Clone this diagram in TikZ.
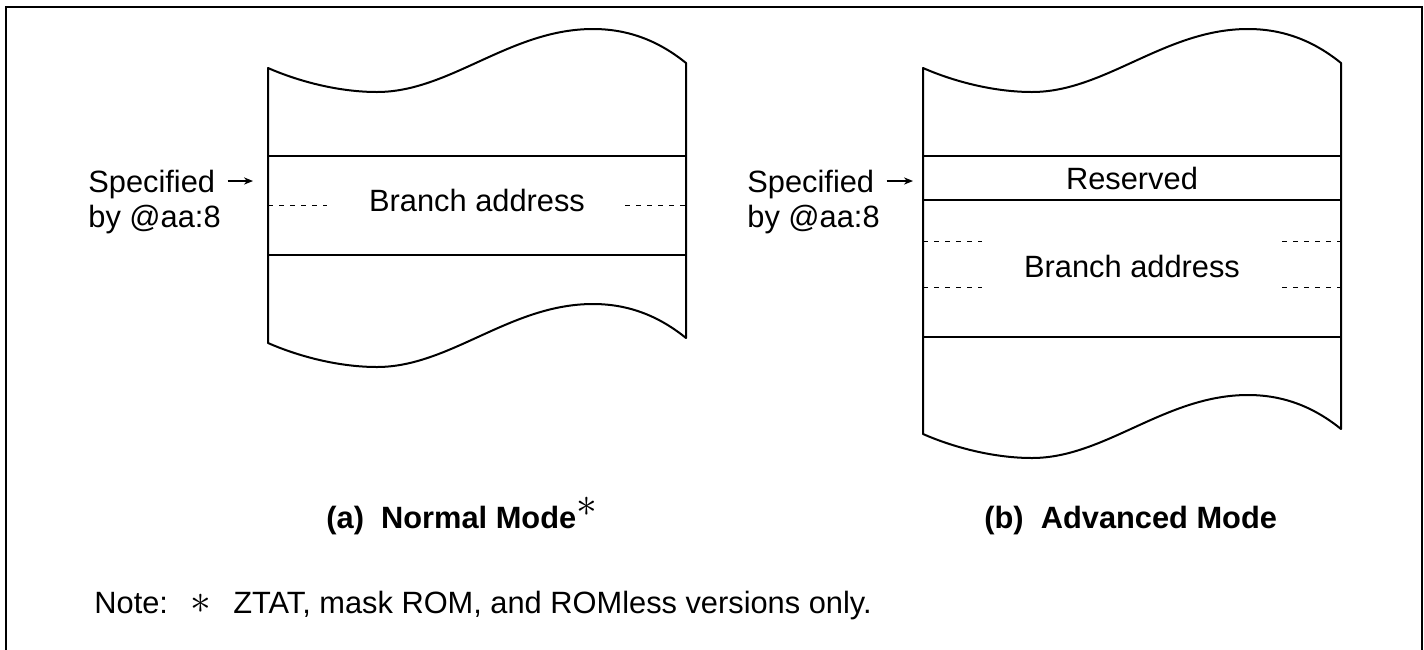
\documentclass[tikz,border=0pt]{standalone}
\usepackage{fontspec}
\setmainfont{Liberation Sans}
\usetikzlibrary{arrows.meta}
\newcommand\scrollshape[1]{%
  (268,68) .. controls (300,82) and (340,92) .. (377,92)
  .. controls (450,92) and (510,29) .. (593,29)
  .. controls (630,29) and (660,42) .. (686,63)
  -- (686,63+#1)
  .. controls (660,42+#1) and (630,29+#1) .. (593,29+#1)
  .. controls (510,29+#1) and (450,92+#1) .. (377,92+#1)
  .. controls (340,92+#1) and (300,82+#1) .. (268,68+#1) -- cycle}
\newcommand\bigast{{\fontsize{20}{20}\selectfont\mdseries$\ast$}}
\begin{document}
\begin{tikzpicture}[x=0.5pt,y=-0.5pt,
  boxline/.style={line width=1pt, line join=round},
  frameline/.style={line width=0.65pt},
  dashline/.style={line width=0.45pt, dash pattern=on 2.5pt off 3pt},
  lbl/.style={inner sep=0pt, anchor=base west, font=\fontsize{15.4}{18}\selectfont},
  ctr/.style={inner sep=0pt, anchor=base, font=\fontsize{15.4}{18}\selectfont},
  captext/.style={inner sep=0pt, anchor=base west, font=\fontsize{15.4}{18}\selectfont\bfseries},
  ptr/.style={line width=0.6pt, -{Stealth[length=4.5pt,width=3.6pt]}}
]
\useasboundingbox (0,0) rectangle (1424,649);
% frame
\draw[frameline] (6,652) -- (6,7) -- (1422,7) -- (1422,652);

% ---------- (a) ----------
\draw[boxline] \scrollshape{275};
\draw[boxline] (268,156) -- (686,156);
\draw[boxline] (268,255) -- (686,255);
\draw[dashline] (268,205) -- (327,205);
\draw[dashline] (625,205) -- (686,205);
\node[ctr] (branchA) at (477,211) {Branch address};
\node[lbl] (specA) at (88,192) {Specified};
\node[lbl] (byA) at (88,227) {by @aa:8};
\coordinate (tipA) at (253,181);
\path (specA.east |- tipA) ++(12,0) coordinate (startA);
\draw[ptr] (startA) -- (tipA);

% ---------- (b) ----------
\begin{scope}[shift={(655,0)}]
\draw[boxline] \scrollshape{366};
\draw[boxline] (268,156) -- (686,156);
\draw[boxline] (268,200) -- (686,200);
\draw[boxline] (268,337) -- (686,337);
\draw[dashline] (268,241) -- (327,241);
\draw[dashline] (268,287) -- (327,287);
\draw[dashline] (627,241) -- (686,241);
\draw[dashline] (627,287) -- (686,287);
\node[ctr] (reserved) at (477,189) {Reserved};
\node[ctr] (branchB) at (477,277) {Branch address};
\end{scope}
\node[lbl] (specB) at (747,192) {Specified};
\node[lbl] (byB) at (747,227) {by @aa:8};
\coordinate (tipB) at (913,181);
\path (specB.east |- tipB) ++(12,0) coordinate (startB);
\draw[ptr] (startB) -- (tipB);

% captions
\node[captext] (capA) at (326,528) {(a)\ \ Normal Mode\raisebox{0.38em}{\bigast}};
\node[captext] (capB) at (984,528) {(b)\ \ Advanced Mode};
\node[lbl] (note) at (94,613) {Note:\ \ \,\bigast\,\ \ ZTAT, mask ROM, and ROMless versions only.};
\end{tikzpicture}
\end{document}
